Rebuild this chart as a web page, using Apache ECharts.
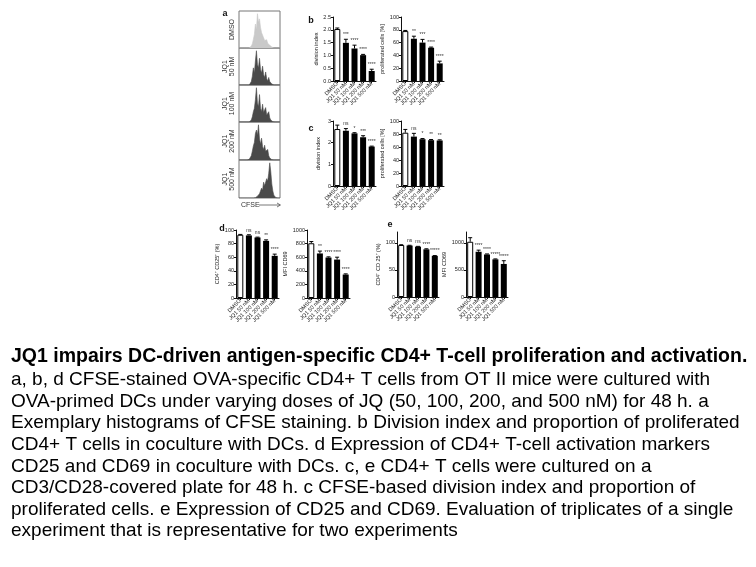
<!DOCTYPE html>
<html><head><meta charset="utf-8">
<script src="https://cdn.jsdelivr.net/npm/echarts@6/dist/echarts.min.js"></script>
<style>html,body{margin:0;padding:0;background:#fff}#c{width:756px;height:567px}</style>
</head><body><div id="c"></div>
<script>
// ---------- data ----------
const categories = ['DMSO', 'JQ1 50 nM', 'JQ1 100 nM', 'JQ1 200 nM', 'JQ1 500 nM'];

const bDivision = [2.03, 1.49, 1.27, 1.01, 0.39];
const bDivisionErr = [0.04, 0.14, 0.13, 0.03, 0.07];
const bDivisionSig = ['', '***', '****', '****', '****'];

const bProlif = [78, 66, 60, 52, 27.5];
const bProlifErr = [1, 4, 5, 1, 3.5];
const bProlifSig = ['', '**', '***', '****', '****'];

const cDivision = [2.63, 2.55, 2.43, 2.25, 1.82];
const cDivisionErr = [0.18, 0.1, 0.03, 0.07, 0.02];
const cDivisionSig = ['', 'ns', '*', '***', '****'];

const cProlif = [82, 76, 72, 70.5, 70];
const cProlifErr = [5, 5, 1, 1, 1];
const cProlifSig = ['', 'ns', '*', '**', '**'];

const dCD25 = [93, 92, 89, 84, 62];
const dCD25Err = [0.5, 1, 0.5, 1.5, 2.5];
const dCD25Sig = ['', 'ns', 'ns', '**', '****'];

const dCD69 = [805, 655, 595, 565, 345];
const dCD69Err = [25, 35, 10, 35, 10];
const dCD69Sig = ['', '**', '****', '****', '****'];

const eCD25 = [96, 95, 93, 88, 76];
const eCD25Err = [0.5, 0.5, 0.5, 1, 0.5];
const eCD25Sig = ['', 'ns', 'ns', '****', '*****'];

const eCD69 = [1020, 835, 785, 695, 610];
const eCD69Err = [75, 30, 10, 8, 60];
const eCD69Sig = ['', '****', '****', '*****', '*****'];

// CFSE histograms (41 bins across the box)
const histLabels = [['DMSO'], ['JQ1', '50 nM'], ['JQ1', '100 nM'], ['JQ1', '200 nM'], ['JQ1', '500 nM']];
const histDMSO = [0,0,0,0,0,0,0,0,0,0,0,2,6,12,25,40,70,55,100,75,85,60,45,50,30,22,20,24,14,10,8,5,3,1,0,0,0,0,0,0,0];
const hist50   = [0,0,0,0,0,0,0,0,0,0,0,3,10,25,50,35,70,100,60,50,78,45,35,55,30,22,38,18,12,22,10,6,3,1,0,0,0,0,0,0,0];
const hist100  = [0,0,0,0,0,0,0,0,0,0,0,2,6,15,30,40,65,100,55,45,80,40,30,52,28,25,42,20,18,30,12,6,3,1,0,0,0,0,0,0,0];
const hist200  = [0,0,0,0,0,0,0,0,0,0,2,5,12,25,40,50,75,85,70,100,60,45,62,38,30,42,25,20,30,12,6,3,1,0,0,0,0,0,0,0,0];
const hist500  = [0,0,0,0,0,0,0,0,0,0,0,0,0,0,0,0,1,3,5,8,12,20,28,22,45,35,40,55,48,70,100,75,40,20,8,3,1,0,0,0,0];

const captionLines = [
  'JQ1 impairs DC-driven antigen-specific CD4+ T-cell proliferation and activation.',
  'a, b, d CFSE-stained OVA-specific CD4+ T cells from OT II mice were cultured with',
  'OVA-primed DCs under varying doses of JQ (50, 100, 200, and 500 nM) for 48 h. a',
  'Exemplary histograms of CFSE staining. b Division index and proportion of proliferated',
  'CD4+ T cells in coculture with DCs. d Expression of CD4+ T-cell activation markers',
  'CD25 and CD69 in coculture with DCs. c, e CD4+ T cells were cultured on a',
  'CD3/CD28-covered plate for 48 h. c CFSE-based division index and proportion of',
  'proliferated cells. e Expression of CD25 and CD69. Evaluation of triplicates of a single',
  'experiment that is representative for two experiments'
];

// ---------- layout ----------
const FONT = 'Liberation Sans';
const grids = [], xAxes = [], yAxes = [], series = [], graphics = [];

function barPanel(g, vals, errs, sigs, yCfg) {
  const idx = grids.length;
  grids.push({left: g[0], top: g[1], width: g[2], height: g[3], containLabel: false});
  xAxes.push({
    gridIndex: idx, type: 'category', data: categories,
    axisLine: {lineStyle: {color: '#111', width: 1}},
    axisTick: {show: true, alignWithLabel: true, length: 2, lineStyle: {color: '#111'}},
    axisLabel: {rotate: 45, fontSize: 5.5, margin: 2, interval: 0, color: '#222', fontFamily: FONT}
  });
  const ya = {
    gridIndex: idx, type: 'value', min: 0, max: yCfg.max, interval: yCfg.interval,
    name: yCfg.name, nameLocation: 'middle', nameGap: yCfg.nameGap,
    nameTextStyle: {fontSize: 5.5, color: '#222', fontFamily: FONT},
    axisLine: {show: true, lineStyle: {color: '#111', width: 1}},
    axisTick: {show: true, length: 2, lineStyle: {color: '#111'}},
    axisLabel: {fontSize: 5.5, margin: 2, color: '#222', fontFamily: FONT, formatter: yCfg.fmt || (v => String(v))},
    splitLine: {show: false}
  };
  if (yCfg.custom) {
    ya.axisLabel.customValues = yCfg.custom;
    ya.axisTick.customValues = yCfg.custom;
  }
  yAxes.push(ya);
  series.push({
    type: 'bar', xAxisIndex: idx, yAxisIndex: idx, barWidth: 6,
    data: vals.map((v, i) => ({value: v, itemStyle: i === 0 ? {color: '#fff', borderColor: '#000', borderWidth: 1} : {color: '#000'}})),
    silent: true, animation: false
  });
  series.push({
    type: 'custom', xAxisIndex: idx, yAxisIndex: idx, silent: true, animation: false,
    data: vals.map((v, i) => [i, v, errs[i]]),
    renderItem: function (params, api) {
      const i = api.value(0), v = api.value(1), e = api.value(2);
      const p0 = api.coord([i, v]);
      const p1 = api.coord([i, v + e]);
      const children = [
        {type: 'line', shape: {x1: p0[0], y1: p0[1], x2: p1[0], y2: p1[1]}, style: {stroke: '#000', lineWidth: 1}},
        {type: 'line', shape: {x1: p1[0] - 2, y1: p1[1], x2: p1[0] + 2, y2: p1[1]}, style: {stroke: '#000', lineWidth: 1}}
      ];
      const s = sigs[params.dataIndex];
      if (s) children.push({type: 'text', style: {text: s, x: p1[0], y: p1[1] - 2, align: 'center', verticalAlign: 'bottom', fontSize: 5, fontFamily: FONT, fill: '#333'}});
      return {type: 'group', children: children};
    }
  });
}

barPanel([333, 17, 43, 64], bDivision, bDivisionErr, bDivisionSig, {max: 2.5, interval: 0.5, name: 'division index', nameGap: 13, fmt: v => v.toFixed(1)});
barPanel([401, 17, 43, 64], bProlif, bProlifErr, bProlifSig, {max: 100, interval: 20, name: 'proliferated cells [%]', nameGap: 12});
barPanel([333, 121, 43, 65], cDivision, cDivisionErr, cDivisionSig, {max: 3, interval: 1, name: 'division index', nameGap: 12});
barPanel([401, 121, 43, 65], cProlif, cProlifErr, cProlifSig, {max: 100, interval: 20, name: 'proliferated cells [%]', nameGap: 12});
barPanel([236, 230, 43, 68], dCD25, dCD25Err, dCD25Sig, {max: 100, interval: 20, name: 'CD4\u207A CD25\u207A (%)', nameGap: 12});
barPanel([307, 230, 43, 68], dCD69, dCD69Err, dCD69Sig, {max: 1000, interval: 200, name: 'MFI CD69', nameGap: 17});
barPanel([397, 232, 42, 65], eCD25, eCD25Err, eCD25Sig, {max: 120, interval: 50, name: 'CD4\u207A CD 25\u207A (%)', nameGap: 14, custom: [0, 50, 100]});
barPanel([466, 232, 42, 65], eCD69, eCD69Err, eCD69Sig, {max: 1200, interval: 500, name: 'MFI CD69', nameGap: 13, custom: [0, 500, 1000]});

// histograms
const hists = [histDMSO, hist50, hist100, hist200, hist500];
const histTops = [11, 48, 85, 122, 160];
const histH = [37, 37, 37, 38, 38];
hists.forEach((h, k) => {
  const idx = grids.length;
  grids.push({left: 239, top: histTops[k], width: 41, height: histH[k], show: true, borderColor: '#777', borderWidth: 1, backgroundColor: 'transparent'});
  xAxes.push({gridIndex: idx, type: 'category', boundaryGap: false, data: h.map((_, i) => i), show: false});
  yAxes.push({gridIndex: idx, type: 'value', min: 0, max: 108, show: false});
  const col = k === 0 ? '#c9c9c9' : '#4a4a4a';
  series.push({type: 'line', xAxisIndex: idx, yAxisIndex: idx, data: h, symbol: 'none', silent: true, animation: false,
    lineStyle: {color: col, width: 0.6}, areaStyle: {color: col, opacity: 1}});
  const lbl = histLabels[k];
  const cy = histTops[k] + histH[k] / 2;
  lbl.forEach((t, j) => {
    const x = lbl.length === 1 ? 232 : (j === 0 ? 225 : 232.5);
    graphics.push({type: 'text', x: x, y: cy, rotation: Math.PI / 2,
      style: {text: t, fontSize: 7, fontFamily: FONT, fill: '#333', align: 'center', verticalAlign: 'middle'}});
  });
});

// CFSE arrow
graphics.push({type: 'text', x: 241, y: 205, style: {text: 'CFSE', fontSize: 7, fontFamily: FONT, fill: '#333', verticalAlign: 'middle'}});
graphics.push({type: 'line', shape: {x1: 259, y1: 205, x2: 280, y2: 205}, style: {stroke: '#555', lineWidth: 0.8}});
graphics.push({type: 'polyline', shape: {points: [[277, 203], [280.5, 205], [277, 207]]}, style: {stroke: '#555', lineWidth: 0.8, fill: null}});

// panel letters
[['a', 225, 14], ['b', 311, 21], ['c', 311, 129], ['d', 222, 229], ['e', 390, 225]].forEach(p => {
  graphics.push({type: 'text', x: p[1], y: p[2], style: {text: p[0], fontSize: 9, fontWeight: 'bold', fontFamily: FONT, fill: '#111', align: 'center', verticalAlign: 'middle'}});
});

// caption
const capY = [357, 380, 402, 423, 445, 467, 488, 510, 531];
captionLines.forEach((t, i) => {
  graphics.push({type: 'text', x: 11, y: capY[i], style: {text: t, fontSize: i === 0 ? 19.5 : 19, fontWeight: i === 0 ? 'bold' : 'normal', fontFamily: FONT, fill: '#000', verticalAlign: 'middle'}});
});

const chart = echarts.init(document.getElementById('c'), null, {renderer: 'canvas'});
chart.setOption({
  animation: false,
  backgroundColor: '#fff',
  grid: grids, xAxis: xAxes, yAxis: yAxes, series: series,
  graphic: graphics
});
</script></body></html>
